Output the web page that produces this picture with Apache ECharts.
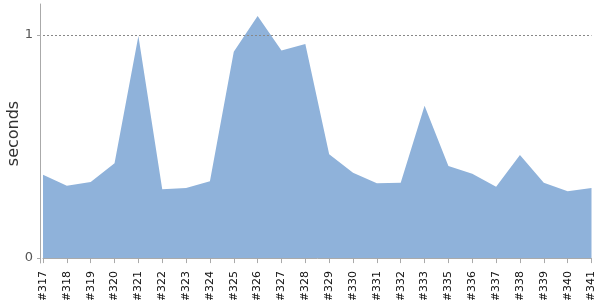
<!DOCTYPE html>
<html>
<head>
<meta charset="utf-8">
<script src="https://cdn.jsdelivr.net/npm/echarts@6/dist/echarts.min.js"></script>
<style>
  html, body { margin: 0; padding: 0; background: #fff; }
  #chart { width: 600px; height: 300px; }
</style>
</head>
<body>
<div id="chart"></div>
<script>
// build numbers on the x axis (#334 is missing in the source)
var builds = ['#317', '#318', '#319', '#320', '#321', '#322', '#323', '#324', '#325',
    '#326', '#327', '#328', '#329', '#330', '#331', '#332', '#333', '#335', '#336',
    '#337', '#338', '#339', '#340', '#341'];

// duration per build, seconds
var seconds = [0.374, 0.324, 0.341, 0.425, 0.996, 0.309, 0.314, 0.344, 0.925,
    1.085, 0.930, 0.960, 0.465, 0.383, 0.335, 0.338, 0.683, 0.413, 0.378,
    0.320, 0.462, 0.338, 0.300, 0.314];

var yTicks = [0, 1];
var threshold = 1;

var myChart = echarts.init(document.getElementById('chart'));

var option = {
    animation: false,
    textStyle: { fontFamily: 'DejaVu Sans' },
    grid: { left: 43, right: 8.5, top: 4, bottom: 37, outerBoundsMode: 'none', containLabel: false },
    xAxis: {
        type: 'category',
        data: builds,
        boundaryGap: false,
        axisLine: { lineStyle: { color: '#aaa' } },
        axisTick: { alignWithLabel: true, length: 5, lineStyle: { color: '#aaa' } },
        axisLabel: {
            interval: 0,
            rotate: 90,
            color: '#111',
            fontSize: 11,
            margin: 8
        }
    },
    yAxis: {
        type: 'value',
        min: -0.022,
        max: 1.139,
        offset: 3,
        name: 'seconds',
        nameLocation: 'middle',
        nameGap: 18,
        nameMoveOverlap: false,
        nameTextStyle: { fontSize: 16, color: '#333' },
        axisLine: { show: true, lineStyle: { color: '#aaa' } },
        axisTick: { show: true, length: 3, customValues: yTicks, lineStyle: { color: '#aaa' } },
        axisLabel: { customValues: yTicks, color: '#555', fontSize: 13, margin: 7 },
        splitLine: { show: false }
    },
    series: [
        {
            type: 'line',
            data: seconds,
            symbol: 'none',
            lineStyle: { width: 0 },
            areaStyle: { color: '#8fb2da', opacity: 1 },
            markLine: {
                silent: true,
                symbol: ['none', 'none'],
                label: { show: false },
                lineStyle: { color: '#888', type: [2, 2], width: 1 },
                data: [{ yAxis: threshold }]
            }
        }
    ]
};

myChart.setOption(option);
</script>
</body>
</html>
